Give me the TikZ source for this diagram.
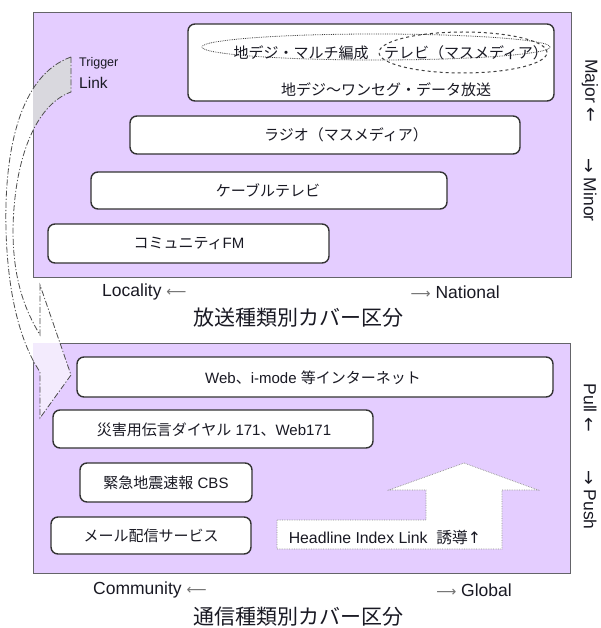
\documentclass[tikz,border=0pt]{standalone}
\usepackage{fontspec}
\setmainfont{Liberation Sans}
\newfontfamily\jp{Noto Sans CJK JP}
\newfontfamily\sym{DejaVu Sans}
\usetikzlibrary{shapes.geometric}
\definecolor{panelfill}{RGB}{228,205,255}
\definecolor{panelline}{RGB}{100,100,105}
\definecolor{trigfill}{RGB}{217,216,222}
\definecolor{headfill}{RGB}{243,235,253}
\definecolor{txt}{RGB}{25,25,35}
\tikzset{
  panel/.style={draw=panelline, line width=0.9pt, fill=panelfill, inner sep=0pt},
  boxnode/.style={draw=black!80, line width=1.4pt, fill=white, rounded corners=7pt, inner sep=0pt},
  boxtext/.style={text=txt, font=\fontsize{15}{17}\selectfont, inner sep=0pt},
  axlabel/.style={text=txt, font=\fontsize{17.5}{20}\selectfont, inner sep=0pt},
  title/.style={text=txt, font=\fontsize{21}{24}\selectfont\jp, inner sep=0pt},
  dashdot/.style={draw=black!70, line width=0.8pt, dash pattern=on 6pt off 2pt on 1.2pt off 2pt},
}
\begin{document}
\begin{tikzpicture}[x=1pt,y=-1pt]
\useasboundingbox (0,0) rectangle (601,628);
% panels
\node[panel, minimum width=538pt, minimum height=265pt] (up) at (302,144.5) {};
\node[panel, minimum width=537pt, minimum height=230pt] (lo) at (301.5,458) {};
% curved trigger arrow fills
\def\arrowpath{(71,57) .. controls (20,75) and (4,150) .. (6,230) .. controls (8,300) and (22,345) .. (40,372) -- (40,418) -- (71,375) -- (40,285) -- (40,335) .. controls (25,310) and (13,280) .. (13,230) .. controls (14,160) and (35,105) .. (71,92) -- cycle}
\begin{scope}
  \clip (33,12) rectangle (571,277);
  \fill[trigfill] \arrowpath;
\end{scope}
\begin{scope}
  \clip (33,343) rectangle (570,573);
  \fill[headfill] \arrowpath;
\end{scope}
\draw[dashdot] \arrowpath;
% upper boxes
\node[boxnode, minimum width=366pt, minimum height=77pt] (tv) at (371,62.5) {};
\node[draw=black!75, ellipse, densely dotted, line width=0.8pt, minimum width=348pt, minimum height=26pt] (ell1) at (376,47) {};
\node[draw=black!75, ellipse, dashed, line width=1pt, minimum width=168pt, minimum height=41pt] (ell2) at (463,52.5) {};
\node[boxtext] (tv1) at (301,53) {\jp 地デジ・マルチ編成};
\node[boxtext] (tv2) at (466,53) {\jp テレビ（マスメディア）};
\node[boxtext] (tv3) at (386,90) {\jp 地デジ～ワンセグ・データ放送};
\node[boxnode, minimum width=390pt, minimum height=38pt] (radio) at (325,135) {};
\node[boxtext] (radiot) at (346,135) {\jp ラジオ（マスメディア）};
\node[boxnode, minimum width=356pt, minimum height=37pt] (cable) at (269,190.5) {};
\node[boxtext] (cablet) at (268,190.5) {\jp ケーブルテレビ};
\node[boxnode, minimum width=281pt, minimum height=39pt] (cfm) at (188.5,243.5) {};
\node[boxtext] (cfmt) at (189,243.5) {{\jp コミュニティ}FM};
% trigger link
\node[text=txt, font=\fontsize{12.5}{14}\selectfont, anchor=west, inner sep=0pt] (trig) at (79,63) {Trigger};
\node[text=txt, font=\fontsize{15.5}{17}\selectfont, anchor=west, inner sep=0pt] (link) at (79,83) {Link};
% right labels upper
\node[axlabel, rotate=-90] (major) at (590,91) {Major {\sym ←}};
\node[axlabel, rotate=-90] (minor) at (590,190) {{\sym →} Minor};
% bottom labels upper
\node[axlabel, anchor=west] (loc) at (102,292) {Locality {\color{black!55}\sym\fontsize{14}{16}\selectfont ⟵}};
\node[axlabel, anchor=east] (nat) at (500,292) {{\color{black!55}\sym\fontsize{14}{16}\selectfont ⟶} National};
\node[title] (t1) at (298,318) {放送種類別カバー区分};
% lower boxes
\node[boxnode, minimum width=476pt, minimum height=40pt] (web) at (315,377) {};
\node[boxtext] (webt) at (313,378) {Web{\jp 、}i-mode {\jp 等インターネット}};
\node[boxnode, minimum width=320pt, minimum height=38pt] (dial) at (213,429) {};
\node[boxtext] (dialt) at (214,430) {{\jp 災害用伝言ダイヤル} 171{\jp 、}Web171};
\node[boxnode, minimum width=172pt, minimum height=39pt] (eew) at (166,482.5) {};
\node[boxtext] (eewt) at (166,483) {{\jp 緊急地震速報} CBS};
\node[boxnode, minimum width=200pt, minimum height=37pt] (mail) at (151,535.5) {};
\node[boxtext] (mailt) at (151,536) {\jp メール配信サービス};
% headline arrow
\draw[fill=white, draw=black!45, densely dotted, line width=0.7pt] (277,520) -- (426,520) -- (426,490) -- (389,490) -- (464,463) -- (538,490) -- (502,490) -- (502,549) -- (277,549) -- cycle;
\node[boxtext, font=\fontsize{15.8}{18}\selectfont] (head) at (385,537) {Headline Index Link\ \ {\jp 誘導}{\sym ↑}};
% right labels lower
\node[axlabel, rotate=-90] (pull) at (590,408) {Pull {\sym ←}};
\node[axlabel, rotate=-90] (push) at (590,500) {{\sym →} Push};
% bottom labels lower
\node[axlabel, anchor=west] (com) at (93,590) {Community {\color{black!55}\sym\fontsize{14}{16}\selectfont ⟵}};
\node[axlabel, anchor=east] (glob) at (512,590) {{\color{black!55}\sym\fontsize{14}{16}\selectfont ⟶} Global};
\node[title] (t2) at (298,617) {通信種類別カバー区分};
\end{tikzpicture}
\end{document}
